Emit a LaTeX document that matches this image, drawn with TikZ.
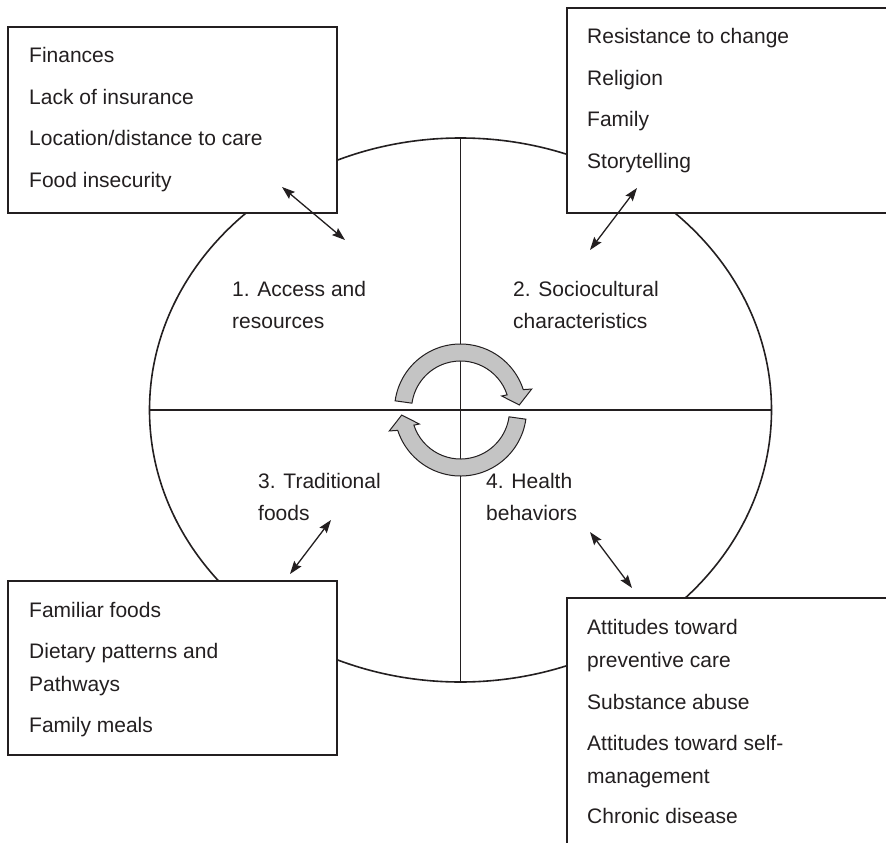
\documentclass[tikz,border=0pt]{standalone}
\usepackage{fontspec}
\setmainfont{Liberation Sans}
\usetikzlibrary{arrows.meta,shapes.geometric}
\definecolor{ink}{HTML}{231F20}
\definecolor{ringfill}{HTML}{C4C4C4}
\tikzset{
  frame/.style={draw=ink, line width=1.6pt, fill=white, anchor=north west, inner sep=0pt, outer sep=0pt},
  itemline/.style={anchor=base west, text=ink, inner sep=0pt, font=\fontsize{21}{25}\selectfont},
  link/.style={draw=ink, line width=1.3pt, {Stealth[length=13pt,width=9pt,inset=2pt]}-{Stealth[length=13pt,width=9pt,inset=2pt]}},
  cycarrow/.style={draw=ink, line width=1pt, fill=ringfill, line join=miter},
  ringline/.style={draw=ink, line width=1.6pt},
  axisline/.style={draw=ink, line width=1.3pt},
}
\begin{document}
\begin{tikzpicture}[x=1pt,y=1pt]
\clip (0,-843) rectangle (886,0);
\fill[white] (0,-843) rectangle (886,0);

% the ring and its quadrant dividers
\node[ellipse, ringline, minimum width=622pt, minimum height=544pt, inner sep=0pt, outer sep=0pt] (ring) at (460.5,-410) {};
\draw[axisline] (ring.north) -- (ring.south);
\draw[axisline] (ring.west) -- (ring.east);

% cycle arrows at the centre
\begin{scope}[shift={(460.5,-410)}]
  \filldraw[cycarrow] (172:66) arc[start angle=172, end angle=18, radius=66]
    -- (16.4:74.2) -- (4.9:59) -- (18.8:43.5) -- (18:49)
    arc[start angle=18, end angle=172, radius=49] -- cycle;
  \begin{scope}[rotate=180]
  \filldraw[cycarrow] (172:66) arc[start angle=172, end angle=18, radius=66]
    -- (16.4:74.2) -- (4.9:59) -- (18.8:43.5) -- (18:49)
    arc[start angle=18, end angle=172, radius=49] -- cycle;
  \end{scope}
\end{scope}

% quadrant labels
\node[itemline] (qa1) at (232,-296) {1. Access and};
\node[itemline] (qa2) at (232,-328) {resources};
\node[itemline] (qb1) at (513,-296) {2. Sociocultural};
\node[itemline] (qb2) at (513,-328) {characteristics};
\node[itemline] (qc1) at (258,-488) {3. Traditional};
\node[itemline] (qc2) at (258,-520) {foods};
\node[itemline] (qd1) at (486,-488) {4. Health};
\node[itemline] (qd2) at (486,-520) {behaviors};

% factor boxes
\node[frame, minimum width=329pt, minimum height=186pt] (tlbox) at (8,-27) {};
\node[frame, minimum width=340pt, minimum height=205pt] (trbox) at (567,-8) {};
\node[frame, minimum width=329pt, minimum height=174pt] (blbox) at (8,-581) {};
\node[frame, minimum width=340pt, minimum height=280pt] (brbox) at (567,-598) {};

\node[itemline] (tl1) at (29,-63) {Finances};
\node[itemline] (tl2) at (29,-104.3) {Lack of insurance};
\node[itemline] (tl3) at (29,-145.6) {Location/distance to care};
\node[itemline] (tl4) at (29,-187) {Food insecurity};

\node[itemline] (tr1) at (587,-44) {Resistance to change};
\node[itemline] (tr2) at (587,-85.3) {Religion};
\node[itemline] (tr3) at (587,-126.6) {Family};
\node[itemline] (tr4) at (587,-168) {Storytelling};

\node[itemline] (bl1) at (29,-617) {Familiar foods};
\node[itemline] (bl2) at (29,-658) {Dietary patterns and};
\node[itemline] (bl3) at (29,-691) {Pathways};
\node[itemline] (bl4) at (29,-732) {Family meals};

\node[itemline] (br1) at (587,-634) {Attitudes toward};
\node[itemline] (br2) at (587,-667) {preventive care};
\node[itemline] (br3) at (587,-709) {Substance abuse};
\node[itemline] (br4) at (587,-750) {Attitudes toward self-};
\node[itemline] (br5) at (587,-783) {management};
\node[itemline] (br6) at (587,-823) {Chronic disease};

% links between quadrants and boxes
\coordinate (tlin) at (282,-187);
\coordinate (tlout) at (345,-240);
\coordinate (trin) at (637,-188);
\coordinate (trout) at (590,-250);
\coordinate (blin) at (290,-574);
\coordinate (blout) at (331,-520);
\coordinate (brin) at (632,-588);
\coordinate (brout) at (590,-532);
\draw[link] (tlin) -- (tlout);
\draw[link] (trin) -- (trout);
\draw[link] (blin) -- (blout);
\draw[link] (brin) -- (brout);
\end{tikzpicture}
\end{document}
